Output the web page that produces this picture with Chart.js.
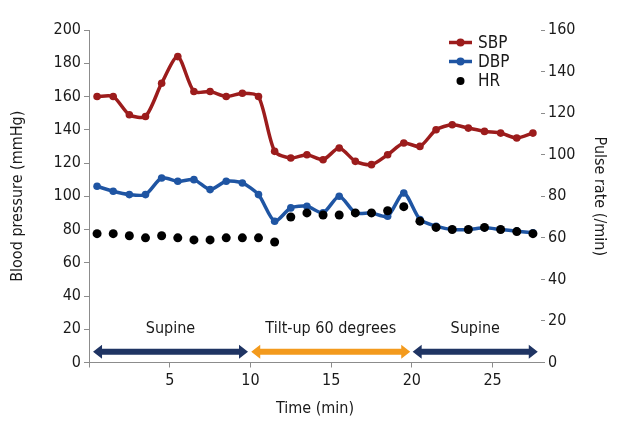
<!DOCTYPE html>
<html>
<head>
<meta charset="utf-8">
<script src="https://cdn.jsdelivr.net/npm/chart.js@4.4.0/dist/chart.umd.min.js"></script>
<style>
  html, body { margin: 0; padding: 0; background: #fff; }
  #wrap { width: 640px; height: 440px; }
</style>
</head>
<body>
<div id="wrap"><canvas id="chart" width="640" height="440"></canvas></div>
<script>
// Time of each measurement (min)
const times = [0.5, 1.5, 2.5, 3.5, 4.5, 5.5, 6.5, 7.5, 8.5, 9.5, 10.5, 11.5, 12.5, 13.5,
  14.5, 15.5, 16.5, 17.5, 18.5, 19.5, 20.5, 21.5, 22.5, 23.5, 24.5, 25.5, 26.5, 27.5];

// Blood pressure (mmHg)
const sbp = [160, 160, 149, 148, 168, 184, 163, 163, 160, 162, 160, 127, 123, 125,
  122, 129, 121, 119, 125, 132, 130, 140, 143, 141, 139, 138, 135, 138];
const dbp = [106, 103, 101, 101, 111, 109, 110, 104, 109, 108, 101, 85, 93, 94,
  90, 100, 90, 90, 88, 102, 86, 82, 80, 80, 81, 80, 79, 78];

// Pulse rate (/min)
const hr = [62, 62, 61, 60, 61, 60, 59, 59, 60, 60, 60, 58, 70, 72,
  71, 71, 72, 72, 73, 75, 68, 65, 64, 64, 65, 64, 63, 62];

// Posture phases (min)
const phaseLabels = ['Supine', 'Tilt-up 60 degrees', 'Supine'];
const phaseStart = [0.25, 10.05, 20.05];
const phaseEnd = [9.85, 19.9, 27.8];

const FONT = "'Liberation Sans Narrow', 'DejaVu Sans Condensed', 'Roboto', sans-serif";
const phaseColors = ['#1f3463', '#f39a1d', '#1f3463'];
const TEXT = '#1a1a1a';
const AXIS = '#8c8c8c';

const toPoints = (vals) => vals.map((v, i) => ({ x: times[i], y: v }));

// Double-headed arrows with phase names under the curves
const phasePlugin = {
  id: 'phases',
  afterDatasetsDraw(chart) {
    const { ctx, scales: { x, y } } = chart;
    const yc = y.getPixelForValue(6.5);
    const ty = y.getPixelForValue(20);
    const hw = 7, sw = 3, hl = 9;
    ctx.save();
    phaseStart.forEach((s, i) => {
      const xl = x.getPixelForValue(s);
      const xr = x.getPixelForValue(phaseEnd[i]);
      ctx.fillStyle = phaseColors[i];
      ctx.beginPath();
      ctx.moveTo(xl, yc);
      ctx.lineTo(xl + hl, yc - hw);
      ctx.lineTo(xl + hl, yc - sw);
      ctx.lineTo(xr - hl, yc - sw);
      ctx.lineTo(xr - hl, yc - hw);
      ctx.lineTo(xr, yc);
      ctx.lineTo(xr - hl, yc + hw);
      ctx.lineTo(xr - hl, yc + sw);
      ctx.lineTo(xl + hl, yc + sw);
      ctx.lineTo(xl + hl, yc + hw);
      ctx.closePath();
      ctx.fill();

      ctx.fillStyle = TEXT;
      ctx.font = '16px ' + FONT;
      ctx.textAlign = 'center';
      ctx.textBaseline = 'middle';
      ctx.fillText(phaseLabels[i], (xl + xr) / 2, ty);
    });
    ctx.restore();
  }
};

// Legend in the upper right corner
const legendPlugin = {
  id: 'cornerLegend',
  afterDraw(chart) {
    const { ctx } = chart;
    const rows = [42.5, 61.5, 81];
    ctx.save();
    chart.data.datasets.forEach((ds, i) => {
      const yy = rows[i];
      ctx.fillStyle = ds.pointBackgroundColor;
      if (ds.showLine !== false) {
        ctx.strokeStyle = ds.borderColor;
        ctx.lineWidth = 3.5;
        ctx.beginPath();
        ctx.moveTo(449, yy);
        ctx.lineTo(472, yy);
        ctx.stroke();
      }
      ctx.beginPath();
      ctx.arc(460.5, yy, 4, 0, Math.PI * 2);
      ctx.fill();
      ctx.fillStyle = TEXT;
      ctx.font = '17px ' + FONT;
      ctx.textAlign = 'left';
      ctx.textBaseline = 'middle';
      ctx.fillText(ds.label, 478, yy + 1);
    });
    ctx.restore();
  }
};

new Chart(document.getElementById('chart'), {
  type: 'line',
  data: {
    datasets: [
      {
        label: 'SBP',
        data: toPoints(sbp),
        yAxisID: 'y',
        borderColor: '#9c1c1c',
        backgroundColor: '#9c1c1c',
        pointBackgroundColor: '#9c1c1c',
        pointBorderWidth: 0,
        pointRadius: 3.8,
        borderWidth: 3.5,
        tension: 0.25,
        order: 1
      },
      {
        label: 'DBP',
        data: toPoints(dbp),
        yAxisID: 'y',
        borderColor: '#1f55a3',
        backgroundColor: '#1f55a3',
        pointBackgroundColor: '#1f55a3',
        pointBorderWidth: 0,
        pointRadius: 3.8,
        borderWidth: 3.5,
        tension: 0.25,
        order: 2
      },
      {
        label: 'HR',
        data: toPoints(hr),
        yAxisID: 'y2',
        showLine: false,
        borderColor: '#000',
        backgroundColor: '#000',
        pointBackgroundColor: '#000',
        pointBorderWidth: 0,
        pointRadius: 4.5,
        order: 0
      }
    ]
  },
  options: {
    responsive: false,
    animation: false,
    devicePixelRatio: 1,
    layout: { padding: { left: 0, right: 29, top: 30, bottom: 20 } },
    plugins: {
      legend: { display: false },
      tooltip: { enabled: false }
    },
    scales: {
      x: {
        type: 'linear',
        min: 0,
        max: 28,
        afterFit: (s) => { s.height = 57.5; },
        border: { color: AXIS, width: 1 },
        grid: { drawOnChartArea: false, tickLength: 5, color: AXIS },
        ticks: {
          stepSize: 5,
          includeBounds: false,
          padding: 4,
          color: TEXT,
          font: { family: FONT, size: 16 },
          callback: (v) => (v === 0 ? '' : v)
        },
        title: {
          display: true,
          text: 'Time (min)',
          color: TEXT,
          font: { family: FONT, size: 16 },
          padding: { top: 0, bottom: 2 }
        }
      },
      y: {
        position: 'left',
        min: 0,
        max: 200,
        afterFit: (s) => { s.width = 89; },
        border: { color: AXIS, width: 1 },
        grid: { drawOnChartArea: false, tickLength: 5, color: AXIS },
        ticks: {
          stepSize: 20,
          padding: 3,
          color: TEXT,
          font: { family: FONT, size: 16 }
        },
        title: {
          display: true,
          text: 'Blood pressure (mmHg)',
          color: TEXT,
          font: { family: FONT, size: 16 },
          padding: { top: 8, bottom: 0 }
        }
      },
      y2: {
        position: 'right',
        min: 0,
        max: 160,
        afterFit: (s) => { s.width = 70; },
        border: { display: false },
        grid: { drawOnChartArea: false, tickLength: 4, color: AXIS },
        ticks: {
          stepSize: 20,
          padding: 3,
          color: TEXT,
          font: { family: FONT, size: 16 }
        },
        title: {
          display: true,
          text: 'Pulse rate (/min)',
          color: TEXT,
          font: { family: FONT, size: 16 },
          padding: { top: 2, bottom: 2 }
        }
      }
    }
  },
  plugins: [phasePlugin, legendPlugin]
});
</script>
</body>
</html>
